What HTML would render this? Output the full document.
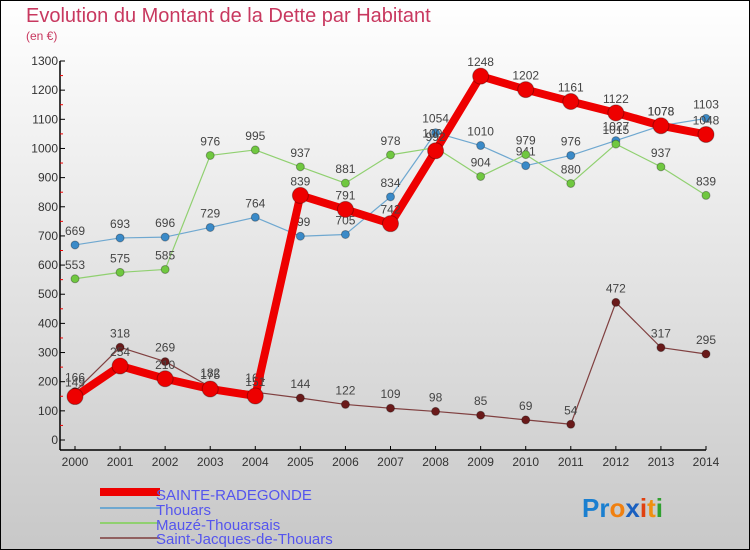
<!DOCTYPE html>
<html><head><meta charset="utf-8"><style>
body{margin:0}
svg{display:block;font-family:"Liberation Sans",sans-serif}
</style></head><body>
<svg id="c" width="750" height="550" viewBox="0 0 750 550">
<defs><linearGradient id="bg" x1="0" y1="0" x2="0" y2="1"><stop offset="0" stop-color="#ffffff"/><stop offset="1" stop-color="#c8c8c8"/></linearGradient></defs>
<rect x="0.5" y="0.5" width="749" height="549" fill="url(#bg)" stroke="#000"/>
<text x="26" y="22" font-size="20" fill="#c8385f">Evolution du Montant de la Dette par Habitant</text>
<text x="26" y="40" font-size="12" fill="#c8385f">(en €)</text>
<g id="axes"></g><g id="series"></g>
<g>
<rect x="100" y="488" width="60" height="8" fill="#e00"/>
<text x="156" y="500" font-size="15" fill="#5555ee">SAINTE-RADEGONDE</text>
<rect x="100" y="507" width="60" height="2" fill="#6fa8d0"/>
<text x="156" y="515" font-size="15" fill="#5555ee">Thouars</text>
<rect x="100" y="522" width="60" height="2" fill="#90d070"/>
<text x="156" y="530" font-size="15" fill="#5555ee">Mauzé-Thouarsais</text>
<rect x="100" y="537" width="60" height="2" fill="#906060"/>
<text x="156" y="544" font-size="15" fill="#5555ee">Saint-Jacques-de-Thouars</text>
</g>
<text x="582" y="517" font-size="26" font-weight="bold"><tspan fill="#1a7fd0">Pr</tspan><tspan fill="#f08010">o</tspan><tspan fill="#1a60c0">x</tspan><tspan fill="#e04010">i</tspan><tspan fill="#f09010">t</tspan><tspan fill="#30a030">i</tspan></text>
</svg>
<script>
const years=[2000,2001,2002,2003,2004,2005,2006,2007,2008,2009,2010,2011,2012,2013,2014];
const sainte=[149,254,210,175,151,839,791,742,992,1248,1202,1161,1122,1078,1048];
const thouars=[669,693,696,729,764,699,705,834,1054,1010,941,976,1027,1078,1103];
const mauze=[553,575,585,976,995,937,881,978,1003,904,979,880,1015,937,839];
const jacques=[166,318,269,182,164,144,122,109,98,85,69,54,472,317,295];
const yTicks=[0,100,200,300,400,500,600,700,800,900,1000,1100,1200,1300];
const NS="http://www.w3.org/2000/svg";
const X=i=>75+i*(706-75)/14, Y=v=>440-v*(440-61)/1300;
function mk(t,a,p){const e=document.createElementNS(NS,t);for(const k in a)e.setAttribute(k,a[k]);p.appendChild(e);return e;}
const ax=document.getElementById('axes'),sg=document.getElementById('series');
const yl=mk('line',{x1:60,y1:61,x2:60,y2:450,stroke:'#000','stroke-width':1.5},ax);


const xl=mk('line',{x1:60,y1:450,x2:706,y2:450,stroke:'#000','stroke-width':1.5},ax);


yTicks.forEach(v=>{
 mk('line',{x1:60,y1:Y(v),x2:65,y2:Y(v),stroke:'#000'},ax);
 if(v<1300)mk('line',{x1:60,y1:Y(v+50),x2:63,y2:Y(v+50),stroke:'#e00'},ax);
 const t=mk('text',{x:58,y:Y(v)+4,'font-size':12,'text-anchor':'end',fill:'#333'},ax);t.textContent=v;
 
 
});
years.forEach((y,i)=>{
 mk('line',{x1:X(i),y1:450,x2:X(i),y2:446,stroke:'#000'},ax);
 const t=mk('text',{x:X(i),y:466,'font-size':12,'text-anchor':'middle',fill:'#333'},ax);t.textContent=y;
 
 
});
function series(d,col,dot,w,r,name){
 const g=mk('g',{},sg);
 
 
 mk('polyline',{points:d.map((v,i)=>X(i)+','+Y(v)).join(' '),fill:'none',stroke:col,'stroke-width':w,'stroke-linejoin':'round'},g);
 d.forEach((v,i)=>{
  const c=mk('circle',{cx:X(i),cy:Y(v),r:r,fill:dot,stroke:'rgba(0,0,0,0.3)'},g);
  
  
  const t=mk('text',{x:X(i),y:Y(v)-10,'font-size':12,'text-anchor':'middle',fill:'#444'},g);t.textContent=v;
 });
}
series(thouars,'#6fa8d0','#3a8ac8',1.2,4,'thouars');
series(mauze,'#90d070','#70c840',1.2,4,'mauze');
series(jacques,'#804040','#6a1a1a',1.2,4,'saint-jacques');
series(sainte,'#ee0000','#ee0000',8,8,'sainte-radegonde');
</script>
</body></html>
